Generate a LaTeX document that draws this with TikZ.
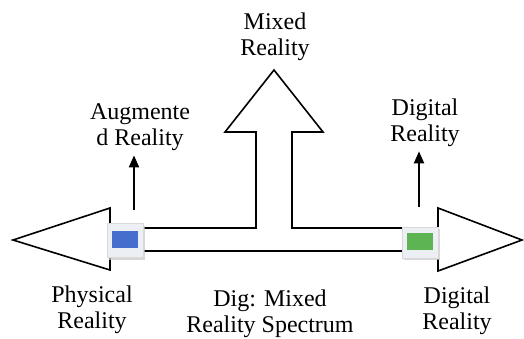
\documentclass[tikz,border=0pt]{standalone}
\usepackage{fontspec}
\setmainfont{Liberation Serif}
\usetikzlibrary{arrows.meta, shadows}

\definecolor{pinblue}{RGB}{70,110,205}
\definecolor{pingreen}{RGB}{92,180,82}
\definecolor{pinback}{RGB}{236,239,243}

\begin{document}
\begin{tikzpicture}[
  x=0.5pt, y=-0.5pt,
  label/.style={align=center, inner sep=2pt, font=\fontsize{12}{13}\selectfont},
  outline/.style={draw, line width=0.8pt, line join=miter},
  pointer/.style={draw, line width=1pt, -{Triangle[length=6pt,width=5pt]}},
  pinbox/.style={draw=gray!30, fill=pinback, minimum width=18pt, minimum height=17pt, inner sep=0pt,
    drop shadow={shadow xshift=1pt, shadow yshift=-1pt, fill=gray!45, opacity=0.7}},
  pin/.style={minimum width=13pt, minimum height=8.5pt, inner sep=0pt}
]
\useasboundingbox (0,0) rectangle (524,338);

% spectrum arrow with the mixed branch
\draw[outline] (13,240) -- (110,208) -- (110,228) -- (256,228) -- (256,132) -- (225,132)
  -- (274,70) -- (323,132) -- (292,132) -- (292,228) -- (438,228) -- (438,208)
  -- (522,240) -- (438,271) -- (438,251) -- (110,251) -- (110,270) -- cycle;

% markers on the spectrum
\node[pinbox] (physbox) at (125,240.5) {};
\node[pin, fill=pinblue] (physpin) at (125,239.5) {};
\node[pinbox, minimum height=15.5pt] (digbox) at (420,242.5) {};
\node[pin, fill=pingreen] (digpin) at (420,241.5) {};

% labels
\node[label] (mixed) at (275,36.5) {Mixed\\Reality};
\node[label] (augmented) at (140,127.5) {Augmente\\d Reality};
\node[label] (digtop) at (425,123) {Digital\\Reality};
\node[label] (physical) at (92,309.5) {Physical\\Reality};
\node[label] (spectrum) at (270,314) {Dig: Mixed\\Reality Spectrum};
\node[label] (digital) at (457,310.5) {Digital\\Reality};

% pointers
\coordinate (augfoot) at (134,210);
\coordinate (digfoot) at (419,207);
\draw[pointer] (augfoot) -- (augfoot |- augmented.south);
\draw[pointer] (digfoot) -- (digfoot |- digtop.south);
\end{tikzpicture}
\end{document}
